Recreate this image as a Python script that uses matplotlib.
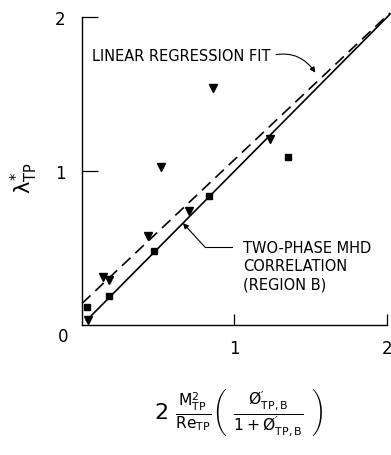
import matplotlib
matplotlib.use("Agg")
import matplotlib.pyplot as plt
import numpy as np

plt.rcParams['font.family'] = ['Liberation Sans Narrow', 'DejaVu Sans']
plt.rcParams['mathtext.fontset'] = 'custom'
plt.rcParams['mathtext.rm'] = 'Liberation Sans Narrow'
plt.rcParams['mathtext.it'] = 'Liberation Sans Narrow'

# measured points: triangles and squares
tri_x = [0.04, 0.14, 0.18, 0.43, 0.52, 0.70, 0.86, 1.23]
tri_y = [0.03, 0.31, 0.29, 0.58, 1.03, 0.74, 1.54, 1.21]
sq_x = [0.03, 0.18, 0.47, 0.83, 1.35]
sq_y = [0.12, 0.19, 0.48, 0.84, 1.09]

# two-phase MHD correlation (region B) and linear regression fit
corr_x = [0.03, 2.02]
corr_y = [0.03, 2.02]
fit_x = [0.0, 2.02]
fit_intercept = 0.14
fit_slope = 0.935

fig = plt.figure(figsize=(3.91, 4.56), dpi=100)
ax = fig.add_axes([0.2097, 0.285, 0.780, 0.675])
ax.set_xlim(0, 2)
ax.set_ylim(0, 2)

for s in ['top', 'right']:
    ax.spines[s].set_visible(False)
for s in ['left', 'bottom']:
    ax.spines[s].set_linewidth(1.0)

ax.set_xticks([1, 2])
ax.set_yticks([1, 2])
ax.tick_params(axis='y', direction='in', length=11.5, width=0.9, pad=12, labelsize=12)
ax.tick_params(axis='x', direction='in', length=8, width=0.9, pad=10, labelsize=12)
ax.set_xticklabels(['1', '2'])
ax.set_yticklabels(['1', '2'])
ax.text(-0.09, -0.07, '0', ha='right', va='center', fontsize=12)

ax.plot(corr_x, corr_y, color='black', lw=1.2, clip_on=False)
fx = np.array(fit_x)
ax.plot(fx, fit_intercept + fit_slope * fx, color='black', lw=1.2,
        dashes=(7, 4), clip_on=False)

ax.plot(tri_x, tri_y, 'v', color='black', markersize=6, clip_on=False)
ax.plot(sq_x, sq_y, 's', color='black', markersize=5, clip_on=False)

ax.annotate('LINEAR REGRESSION FIT', xy=(1.53, 1.64), xytext=(0.066, 1.75),
            fontsize=10.5, ha='left', va='center',
            arrowprops=dict(arrowstyle='-|>', color='black', lw=0.8,
                            mutation_scale=8, shrinkA=2, shrinkB=0,
                            relpos=(1, 0.5),
                            connectionstyle='arc3,rad=-0.35'))

ax.text(1.056, 0.55, 'TWO-PHASE MHD\nCORRELATION\n(REGION B)', fontsize=10.5,
        ha='left', va='top', linespacing=1.25)
ax.plot([0.807, 0.984], [0.506, 0.506], color='black', lw=0.8)
ax.annotate('', xy=(0.662, 0.662), xytext=(0.807, 0.506),
            arrowprops=dict(arrowstyle='-|>', color='black', lw=0.8,
                            mutation_scale=8, shrinkA=0, shrinkB=0))

fig.text(0.062, 1 - 178 / 456, r'$\lambda^{*}_{\mathrm{TP}}$', rotation=90,
         ha='center', va='center', fontsize=15)

fig.text(0.61, 1 - 413 / 456,
         r'$2\ \frac{\mathrm{M}^{2}_{\mathrm{TP}}}{\mathrm{Re}_{\mathrm{TP}}}'
         r'\left(\ \frac{\mathrm{Ø}^{\prime}_{\mathrm{TP,B}}}'
         r'{\mathrm{1+Ø}^{\prime}_{\mathrm{TP,B}}}\ \right)$',
         ha='center', va='center', fontsize=16)

fig.savefig('out.png', dpi=100)
